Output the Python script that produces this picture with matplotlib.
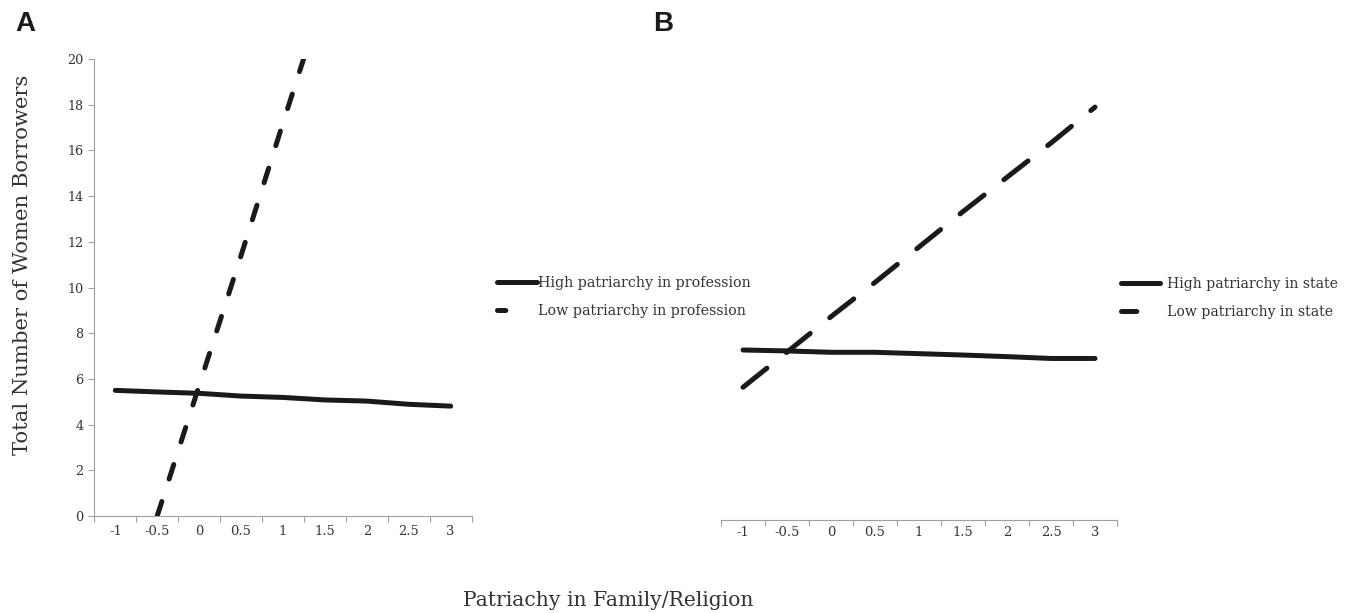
import numpy as np
import matplotlib
matplotlib.use("Agg")
from matplotlib import pyplot as plt
from matplotlib.lines import Line2D

categories = ["-1", "-0.5", "0", "0.5", "1", "1.5", "2", "2.5", "3"]
high_profession = [5.50, 5.43, 5.37, 5.25, 5.19, 5.08, 5.03, 4.89, 4.81]
low_profession = [np.nan, 0.0, 5.7, 11.4, 17.2, 22.9, np.nan, np.nan, np.nan]
high_state = [7.44, 7.40, 7.34, 7.34, 7.28, 7.22, 7.15, 7.07, 7.07]
low_state = [5.81, 7.35, 8.90, 10.40, 11.95, 13.50, 15.00, 16.50, 18.07]
y_ticks = [0, 2, 4, 6, 8, 10, 12, 14, 16, 18, 20]

plt.rcParams["font.family"] = ["DejaVu Serif"]
plt.rcParams["lines.scale_dashes"] = False

TEXT = "#333333"
LINE = "#1a1a1a"
GREY = "#a0a0a0"


def _setup(ax, show_y, xpad):
    x = np.arange(len(categories))
    ax.set_xlim(-0.5, len(categories) - 0.5)
    ax.set_ylim(0, 20)
    ax.patch.set_visible(False)
    for side in ["top", "right"]:
        ax.spines[side].set_visible(False)
    ax.spines["bottom"].set_color(GREY)
    ax.spines["left"].set_color(GREY)
    # category axis: marks between categories, labels at centres
    ax.set_xticks(np.arange(-0.5, len(categories), 1.0))
    ax.set_xticklabels([])
    ax.set_xticks(x, minor=True)
    ax.set_xticklabels(categories, minor=True)
    ax.tick_params(axis="x", which="major", length=4, color=GREY, direction="out")
    ax.tick_params(axis="x", which="minor", length=0, pad=xpad, labelsize=9.4, labelcolor=TEXT)
    if show_y:
        ax.set_yticks(y_ticks)
        ax.tick_params(axis="y", length=4.5, color=GREY, pad=3.5, labelsize=9.2, labelcolor=TEXT)
    else:
        ax.spines["left"].set_visible(False)
        ax.set_yticks([])
    return x


fig = plt.figure(figsize=(13.51, 6.13), dpi=100)
axA = fig.add_axes([0.0698, 0.1582, 0.2793, 0.7455])
axB = fig.add_axes([0.5337, 0.1517, 0.2931, 0.7455])

x = _setup(axA, True, 6.5)
axA.plot(x, high_profession, color=LINE, lw=3.6, solid_capstyle="round")
axA.plot(x, low_profession, color=LINE, lw=3.6, dashes=(11, 17), dash_capstyle="round")

x = _setup(axB, False, 4)
axB.plot(x, high_state, color=LINE, lw=3.6, solid_capstyle="round")
axB.plot(x, low_state, color=LINE, lw=3.6, dashes=(22, 18), dash_capstyle="round")

# legends
hA = [Line2D([], [], color=LINE, lw=3.6, solid_capstyle="round"),
      Line2D([], [], color=LINE, lw=3.6, dashes=(6, 30), dash_capstyle="round")]
fig.legend(hA, ["High patriarchy in profession", "Low patriarchy in profession"],
           loc="center left", bbox_to_anchor=(497 / 1351, 1 - 297 / 613),
           frameon=False, fontsize=10.3,
           handlelength=2.8, handletextpad=0.1, labelspacing=1.0,
           borderpad=0, borderaxespad=0, labelcolor=TEXT)

hB = [Line2D([], [], color=LINE, lw=3.6, solid_capstyle="round"),
      Line2D([], [], color=LINE, lw=3.6, dashes=(11, 30), dash_capstyle="round")]
fig.legend(hB, ["High patriarchy in state", "Low patriarchy in state"],
           loc="center left", bbox_to_anchor=(1121 / 1351, 1 - 298 / 613),
           frameon=False, fontsize=10.1,
           handlelength=2.75, handletextpad=0.55, labelspacing=1.0,
           borderpad=0, borderaxespad=0, labelcolor=TEXT)

fig.text(23 / 1351, 1 - 265 / 613, "Total Number of Women Borrowers", rotation=90,
         ha="center", va="center", fontsize=15.2, color=TEXT)
fig.text(608 / 1351, 1 - 600 / 613, "Patriachy in Family/Religion",
         ha="center", va="center", fontsize=14.6, color=TEXT)

fig.text(15 / 1351, 1 - 11 / 613, "A", ha="left", va="top", fontsize=20,
         family="Liberation Sans", weight="bold", color=LINE)
fig.text(653 / 1351, 1 - 11 / 613, "B", ha="left", va="top", fontsize=20,
         family="Liberation Sans", weight="bold", color=LINE)

fig.savefig("out.png", dpi=100)
